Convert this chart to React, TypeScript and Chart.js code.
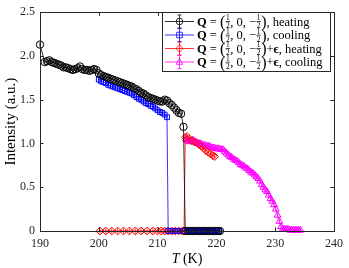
import React, { useEffect, useRef } from "react";
import { Chart, registerables } from "chart.js";

Chart.register(...registerables);

const xTicks = [190, 200, 210, 220, 230, 240];
const yTicks = [0, 0.5, 1, 1.5, 2, 2.5];

// Q = (1/2,0,-1/2), heating
const heatT = [
  190.0, 190.8, 191.2, 191.6, 192.0, 192.4, 192.8, 193.2, 193.6, 194.0, 194.4, 194.8, 195.2, 195.6, 196.0,
  196.4, 196.8, 197.2, 197.6, 198.0, 198.4, 198.8, 199.2, 199.6, 200.0, 200.4, 200.8, 201.2, 201.6, 202.0,
  202.4, 202.8, 203.2, 203.6, 204.0, 204.4, 204.8, 205.2, 205.6, 206.0, 206.4, 206.8, 207.2, 207.6, 208.0,
  208.4, 208.8, 209.2, 209.6, 210.0, 210.4, 210.8, 211.2, 211.6, 212.0, 212.4, 212.8, 213.2, 213.6, 214.0,
  214.4, 214.7, 215.1, 215.5, 215.9, 216.3, 216.7, 217.1, 217.5, 217.9, 218.3, 218.7, 219.1, 219.5, 219.9,
  220.3, 220.6,
];
const heatI = [
  2.13, 1.93, 1.94, 1.95, 1.93, 1.92, 1.91, 1.9, 1.89, 1.87, 1.87, 1.86, 1.85, 1.84, 1.85,
  1.86, 1.88, 1.85, 1.84, 1.84, 1.83, 1.84, 1.85, 1.84, 1.8, 1.78, 1.77, 1.76, 1.75, 1.74,
  1.73, 1.72, 1.71, 1.7, 1.69, 1.68, 1.67, 1.66, 1.65, 1.63, 1.62, 1.6, 1.58, 1.57, 1.55,
  1.53, 1.52, 1.51, 1.5, 1.49, 1.48, 1.48, 1.5, 1.49, 1.46, 1.44, 1.41, 1.38, 1.35, 1.34,
  1.19, 0, 0, 0, 0, 0, 0, 0, 0, 0, 0, 0, 0, 0, 0,
  0, 0,
];

// Q = (1/2,0,-1/2), cooling
const coolT = [
  200.0, 200.4, 200.8, 201.2, 201.6, 202.0, 202.4, 202.8, 203.2, 203.6, 204.0, 204.4, 204.8, 205.2, 205.6,
  206.0, 206.4, 206.8, 207.2, 207.6, 208.0, 208.4, 208.8, 209.2, 209.6, 210.0, 210.4, 210.8, 211.2, 211.6,
  211.8, 212.2, 212.6, 213.0, 213.4, 213.8, 214.2, 214.6, 215.0, 215.4, 215.8, 216.2, 216.6, 217.0, 217.4,
  217.8, 218.2, 218.6, 219.0, 219.4, 219.8, 220.2, 220.5,
];
const coolI = [
  1.73, 1.71, 1.7, 1.69, 1.67, 1.66, 1.65, 1.64, 1.63, 1.62, 1.61, 1.6, 1.59, 1.58, 1.57,
  1.55, 1.53, 1.51, 1.5, 1.48, 1.46, 1.45, 1.43, 1.42, 1.4, 1.38, 1.36, 1.35, 1.33, 1.3,
  0, 0, 0, 0, 0, 0, 0, 0, 0, 0, 0, 0, 0, 0, 0,
  0, 0, 0, 0, 0, 0, 0, 0,
];

// Q = (1/2,0,-1/2)+eps, heating
const epsHeatT = [
  200.2, 201.2, 202.2, 203.2, 204.2, 205.2, 206.2, 207.2, 208.2, 209.2, 210.0, 210.6, 211.2, 211.8, 212.4,
  213.0, 213.6, 214.2, 214.5, 214.7, 215.0, 215.4, 215.8, 216.2, 216.6, 217.0, 217.4, 217.8, 218.2, 218.6,
  219.0, 219.4, 219.7,
];
const epsHeatI = [
  0, 0, 0, 0, 0, 0, 0, 0, 0, 0, 0, 0, 0, 0, 0,
  0, 0, 0, 0, 1.07, 1.08, 1.05, 1.03, 1.02, 1.01, 0.99, 0.97, 0.95, 0.92, 0.9,
  0.88, 0.86, 0.85,
];

// Q = (1/2,0,-1/2)+eps, cooling
const epsCoolT = [
  214.8, 215.1, 215.4, 215.7, 216.0, 216.3, 216.6, 216.9, 217.2, 217.5, 217.8, 218.1, 218.4, 218.7, 219.0,
  219.3, 219.6, 219.9, 220.2, 220.5, 220.8, 221.1, 221.4, 221.7, 222.0, 222.3, 222.6, 222.9, 223.2, 223.5,
  223.8, 224.1, 224.4, 224.7, 225.0, 225.3, 225.6, 225.9, 226.2, 226.5, 226.8, 227.1, 227.4, 227.7, 228.0,
  228.3, 228.6, 228.9, 229.2, 229.5, 229.8, 230.1, 230.4, 230.7, 231.0, 231.3, 231.6, 231.9, 232.2, 232.5,
  232.8, 233.1, 233.4, 233.7, 234.0, 234.3,
];
const epsCoolI = [
  1.05, 1.03, 1.02, 1.03, 1.04, 1.02, 1.01, 1.0, 1.0, 0.99, 0.98, 0.98, 0.97, 0.97, 0.96,
  0.95, 0.95, 0.94, 0.94, 0.94, 0.93, 0.93, 0.91, 0.89, 0.87, 0.85, 0.84, 0.82, 0.81, 0.8,
  0.78, 0.76, 0.75, 0.74, 0.72, 0.71, 0.69, 0.67, 0.66, 0.64, 0.62, 0.6, 0.57, 0.53, 0.5,
  0.47, 0.45, 0.41, 0.37, 0.34, 0.3, 0.25, 0.18, 0.11, 0.05, 0.02, 0.02, 0.02, 0.02, 0.01,
  0.01, 0.01, 0.01, 0.01, 0.01, 0.01,
];

const seriesColors = ["#000000", "#0000ff", "#ff0000", "#ff00ff"];
const seriesMarkers = ["circle", "rect", "rectRot", "triangle"];
const seriesErr = [0.03, 0.03, 0.03, 0.03];
const legendEps = [false, false, true, true];
const legendMode = ["heating", "cooling", "heating", "cooling"];

const SERIF = "'Liberation Serif', 'Times New Roman', serif";
const AXIS = "#262626";

const zip = (xs: number[], ys: number[]) => xs.map((x, i) => ({ x, y: ys[i] }));

function drawMarker(ctx: CanvasRenderingContext2D, style: string, x: number, y: number, r: number) {
  ctx.beginPath();
  if (style === "circle") {
    ctx.arc(x, y, r, 0, Math.PI * 2);
  } else if (style === "rect") {
    ctx.rect(x - r * 0.85, y - r * 0.85, r * 1.7, r * 1.7);
  } else if (style === "rectRot") {
    ctx.moveTo(x, y - r * 1.1);
    ctx.lineTo(x + r * 1.1, y);
    ctx.lineTo(x, y + r * 1.1);
    ctx.lineTo(x - r * 1.1, y);
    ctx.closePath();
  } else {
    ctx.moveTo(x, y - r * 1.1);
    ctx.lineTo(x + r, y + r * 0.7);
    ctx.lineTo(x - r, y + r * 0.7);
    ctx.closePath();
  }
  ctx.stroke();
}

function drawFrac(ctx: CanvasRenderingContext2D, x: number, yMid: number, w: number) {
  ctx.font = `7.5px ${SERIF}`;
  ctx.textAlign = "center";
  ctx.fillText("1", x + w / 2, yMid - 1.3);
  ctx.fillText("2", x + w / 2, yMid + 6.6);
  ctx.textAlign = "left";
  ctx.fillRect(x + 0.3, yMid - 0.2, w - 0.6, 0.7);
}

function drawLegendText(ctx: CanvasRenderingContext2D, x0: number, yMid: number, eps: boolean, mode: string) {
  const base = yMid + 4;
  let cx = x0;
  ctx.fillStyle = "#000";
  ctx.textBaseline = "alphabetic";
  ctx.textAlign = "left";
  const put = (t: string, font: string, yy = base) => {
    ctx.font = font;
    ctx.fillText(t, cx, yy);
    cx += ctx.measureText(t).width;
  };
  const fw = 5;
  put("Q", `bold 12.5px ${SERIF}`);
  put(" = ", `12.5px ${SERIF}`);
  put("(", `16px ${SERIF}`, base + 1.5);
  drawFrac(ctx, cx, yMid, fw);
  cx += fw;
  put(", 0, \u2212", `12.5px ${SERIF}`);
  drawFrac(ctx, cx, yMid, fw);
  cx += fw;
  put(")", `16px ${SERIF}`, base + 1.5);
  if (eps) {
    put("+", `12.5px ${SERIF}`);
    put("\u03f5", `bold 12.5px ${SERIF}`);
  }
  put(", " + mode, `12.5px ${SERIF}`);
}

const framePlugin = {
  id: "frameAndLegend",
  afterDatasetsDraw(chart: any) {
    const ctx: CanvasRenderingContext2D = chart.ctx;
    const ys = chart.scales.y;
    chart.data.datasets.forEach((ds: any, di: number) => {
      const meta = chart.getDatasetMeta(di);
      const e = Math.abs(ys.getPixelForValue(0) - ys.getPixelForValue(seriesErr[di]));
      ctx.save();
      ctx.strokeStyle = seriesColors[di];
      ctx.lineWidth = 0.8;
      meta.data.forEach((pt: any) => {
        ctx.beginPath();
        ctx.moveTo(pt.x, pt.y - e);
        ctx.lineTo(pt.x, pt.y + e);
        ctx.stroke();
      });
      ctx.restore();
    });
  },
  afterDraw(chart: any) {
    const ctx: CanvasRenderingContext2D = chart.ctx;
    const { left, right, top, bottom } = chart.chartArea;
    const xs = chart.scales.x;
    const ys = chart.scales.y;
    ctx.save();
    ctx.strokeStyle = AXIS;
    ctx.lineWidth = 1;
    ctx.strokeRect(Math.round(left) + 0.5, Math.round(top) + 0.5, Math.round(right - left), Math.round(bottom - top));
    const tl = 3.5;
    ctx.beginPath();
    xTicks.forEach((v) => {
      const px = Math.round(xs.getPixelForValue(v)) + 0.5;
      ctx.moveTo(px, bottom);
      ctx.lineTo(px, bottom - tl);
      ctx.moveTo(px, top);
      ctx.lineTo(px, top + tl);
    });
    yTicks.forEach((v) => {
      const py = Math.round(ys.getPixelForValue(v)) + 0.5;
      ctx.moveTo(left, py);
      ctx.lineTo(left + tl, py);
      ctx.moveTo(right, py);
      ctx.lineTo(right - tl, py);
    });
    ctx.stroke();

    // axis titles
    ctx.fillStyle = "#000";
    ctx.textAlign = "center";
    ctx.textBaseline = "middle";
    ctx.save();
    ctx.translate(11, (top + bottom) / 2);
    ctx.rotate(-Math.PI / 2);
    ctx.font = `15px ${SERIF}`;
    ctx.fillText("Intensity (a.u.)", 0, 0);
    ctx.restore();
    ctx.font = `italic 14px ${SERIF}`;
    const tW = ctx.measureText("T").width;
    ctx.font = `14px ${SERIF}`;
    const rW = ctx.measureText(" (K)").width;
    const cx0 = (left + right) / 2 - (tW + rW) / 2;
    ctx.textAlign = "left";
    ctx.font = `italic 14px ${SERIF}`;
    ctx.fillText("T", cx0, 259);
    ctx.font = `14px ${SERIF}`;
    ctx.fillText(" (K)", cx0 + tW, 259);

    // legend
    const bx = 162.5, by = 12.5, bw = 168, bh = 59;
    ctx.fillStyle = "#fff";
    ctx.fillRect(bx, by, bw, bh);
    ctx.strokeStyle = AXIS;
    ctx.lineWidth = 1;
    ctx.strokeRect(bx, by, bw, bh);
    const rows = [21.5, 35, 48.5, 62];
    rows.forEach((ry, i) => {
      const col = seriesColors[i];
      ctx.strokeStyle = col;
      ctx.lineWidth = 0.8;
      ctx.beginPath();
      ctx.moveTo(165, ry);
      ctx.lineTo(194, ry);
      ctx.moveTo(179.5, ry - 6.5);
      ctx.lineTo(179.5, ry + 6.5);
      ctx.moveTo(177.5, ry - 6.5);
      ctx.lineTo(181.5, ry - 6.5);
      ctx.moveTo(177.5, ry + 6.5);
      ctx.lineTo(181.5, ry + 6.5);
      ctx.stroke();
      drawMarker(ctx, seriesMarkers[i], 179.5, ry, 3.3);
      drawLegendText(ctx, 197, ry, legendEps[i], legendMode[i]);
    });
    ctx.restore();
  },
};

export default function App() {
  const ref = useRef<HTMLCanvasElement>(null);
  useEffect(() => {
    document.body.style.margin = "0";
    const canvas = ref.current!;
    const mk = (label: string, xs: number[], ys: number[], i: number, r: number) => ({
      label,
      data: zip(xs, ys),
      borderColor: seriesColors[i],
      backgroundColor: "rgba(0,0,0,0)",
      pointStyle: seriesMarkers[i] as any,
      pointRadius: r,
      pointBorderWidth: 1,
      pointBorderColor: seriesColors[i],
      pointBackgroundColor: "rgba(0,0,0,0)",
      borderWidth: 0.8,
      showLine: true,
      tension: 0,
      clip: false as any,
    });
    const chart = new Chart(canvas, {
      type: "scatter",
      data: {
        datasets: [
          mk("heating", heatT, heatI, 0, 3.7),
          mk("cooling", coolT, coolI, 1, 3.4),
          mk("eps heating", epsHeatT, epsHeatI, 2, 3.9),
          mk("eps cooling", epsCoolT, epsCoolI, 3, 3.9),
        ],
      },
      options: {
        animation: false,
        responsive: false,
        layout: { padding: { top: 5, right: 9, left: 0, bottom: 0 } },
        plugins: { legend: { display: false }, tooltip: { enabled: false } },
        scales: {
          x: {
            type: "linear",
            min: 190,
            max: 240,
            afterBuildTicks: (s: any) => {
              s.ticks = xTicks.map((v) => ({ value: v }));
            },
            afterFit: (s: any) => {
              s.height = 37;
            },
            grid: { display: false, drawTicks: false },
            border: { display: false },
            ticks: { color: AXIS, font: { family: SERIF, size: 12 }, padding: 6, maxRotation: 0 },
          },
          y: {
            type: "linear",
            min: 0,
            max: 2.5,
            afterBuildTicks: (s: any) => {
              s.ticks = yTicks.map((v) => ({ value: v }));
            },
            afterFit: (s: any) => {
              s.width = 40;
            },
            grid: { display: false, drawTicks: false },
            border: { display: false },
            ticks: { color: AXIS, font: { family: SERIF, size: 12 }, padding: 5 },
          },
        },
      },
      plugins: [framePlugin],
    });
    return () => chart.destroy();
  }, []);
  return <canvas ref={ref} width={349} height={268} style={{ display: "block" }} />;
}
